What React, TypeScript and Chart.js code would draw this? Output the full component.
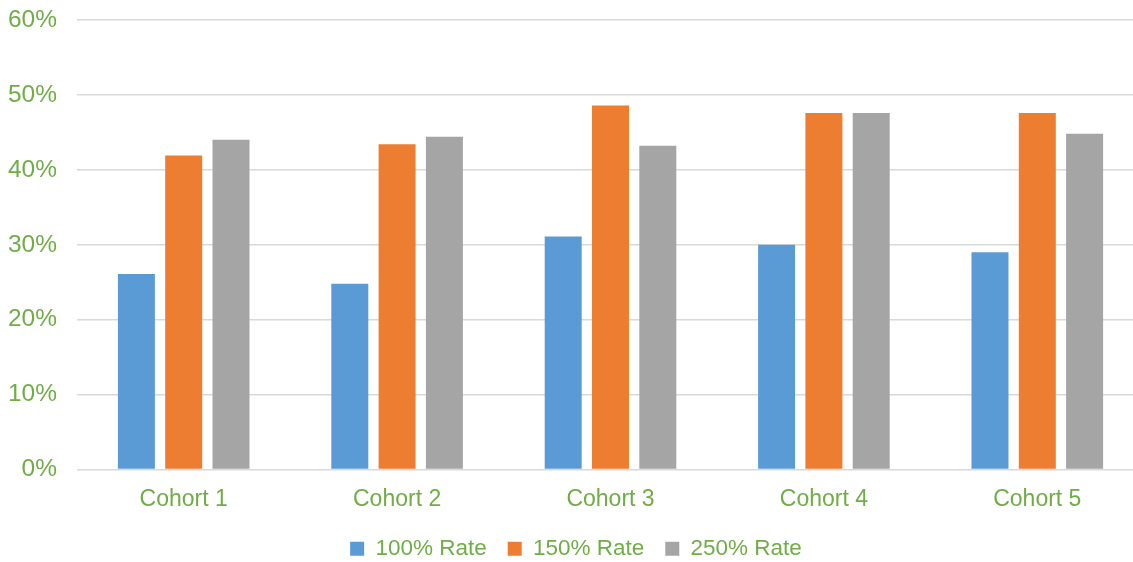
import React, { useEffect, useRef } from "react";
import { Chart, registerables } from "chart.js";

Chart.register(...registerables);

const categories = ["Cohort 1", "Cohort 2", "Cohort 3", "Cohort 4", "Cohort 5"];
const rate100 = [26.1, 24.8, 31.1, 30.0, 29.0];
const rate150 = [41.9, 43.4, 48.6, 47.6, 47.6];
const rate250 = [44.0, 44.4, 43.2, 47.6, 44.8];
const seriesNames = ["100% Rate", "150% Rate", "250% Rate"];

const GREEN = "#70AD47";
const FONT = "'Liberation Sans', Arial, sans-serif";

export default function App() {
  const ref = useRef<HTMLCanvasElement | null>(null);

  useEffect(() => {
    if (!ref.current) return;
    const chart = new Chart(ref.current, {
      type: "bar",
      data: {
        labels: categories,
        datasets: [
          { label: seriesNames[0], data: rate100, backgroundColor: "#5B9BD5" },
          { label: seriesNames[1], data: rate150, backgroundColor: "#ED7D31" },
          { label: seriesNames[2], data: rate250, backgroundColor: "#A5A5A5" },
        ],
      },
      options: {
        animation: false,
        responsive: true,
        maintainAspectRatio: false,
        layout: { padding: { left: 8, right: 0, top: 20, bottom: -8 } },
        datasets: {
          bar: { categoryPercentage: 0.665, barPercentage: 0.782 },
        },
        plugins: {
          tooltip: { enabled: false },
          legend: {
            position: "bottom",
            labels: {
              color: GREEN,
              font: { family: FONT, size: 22.5 },
              boxWidth: 14,
              boxHeight: 14,
              padding: 21,
            },
          },
        },
        scales: {
          x: {
            grid: { display: false },
            border: { display: false },
            afterFit: (scale: any) => {
              scale.height = 47;
            },
            ticks: {
              color: GREEN,
              font: { family: FONT, size: 23 },
              padding: 8,
            },
          },
          y: {
            min: 0,
            max: 60,
            afterFit: (scale: any) => {
              scale.width = 69;
              scale.paddingTop = 0;
            },
            grid: { color: "#D9D9D9", lineWidth: 1.5, drawTicks: false },
            border: { display: false },
            ticks: {
              stepSize: 10,
              color: GREEN,
              font: { family: FONT, size: 24.5 },
              padding: 20,
              callback: (v: any) => v + "%",
            },
          },
        },
      },
    });
    return () => chart.destroy();
  }, []);

  return (
    <div style={{ position: "fixed", left: 0, top: 0, width: 1144, height: 562, background: "#fff" }}>
      <canvas ref={ref} />
    </div>
  );
}
